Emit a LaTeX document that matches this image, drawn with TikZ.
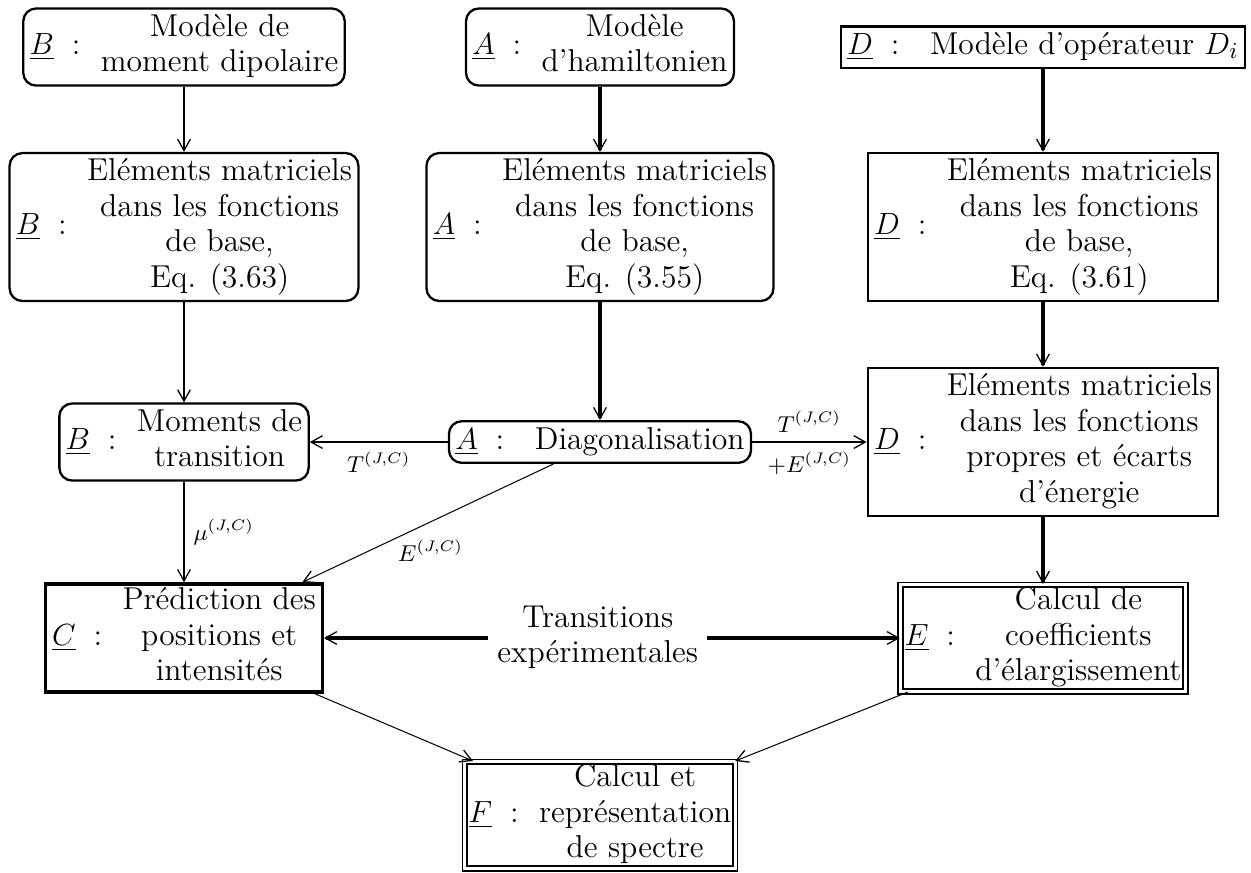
\documentclass[tikz,border=0pt]{standalone}
\usepackage{fontspec}
\usepackage{tikz}
\usetikzlibrary{positioning,arrows.meta}
\tikzstyle{rbox}=[draw, rounded corners=5pt, line width=0.9pt, inner xsep=2.5pt, inner ysep=1.2pt]
\tikzstyle{sbox}=[draw, line width=1pt, inner xsep=2.5pt, inner ysep=1.2pt]
\tikzstyle{dbox}=[draw, double, line width=0.7pt, double distance=1.2pt, inner xsep=1.5pt, inner ysep=0pt]
\tikzstyle{fin}=[line width=0.4pt]
\tikzstyle{moyen}=[line width=0.8pt]
\tikzstyle{epais}=[line width=1.2pt]
\newcommand{\etiq}[1]{$\underline{#1}$\hspace{7pt}:\hspace{8pt}}
\newcommand{\lignes}[1]{\begin{tabular}{@{}c@{}}#1\end{tabular}}
\begin{document}
\begin{tikzpicture}[node distance=2cm,>={Straight Barb[length=4.5pt,width=5pt,line width=0.5pt]},font=\fontsize{12.4}{13.9}\selectfont]
\useasboundingbox (-2.535,0.648) rectangle (14.70,-11.379);
% modeles
\node[rbox] at (0,0) (b1) {\etiq{B}\lignes{Modèle de\\moment dipolaire}};
\node[rbox, right of = b1, node distance = 5.731cm] (a1) {\etiq{A}\lignes{Modèle\\d'hamiltonien}};
\node[sbox, right of = a1, node distance = 6.103cm] (d1) {\etiq{D}\hspace{4pt}\lignes{Modèle d'opérateur $D_i$}};

% elements matriciels
\node[rbox, below of = b1, node distance = 2.48cm] (b2) {\etiq{B}\lignes{Eléments matriciels\\dans les fonctions\\de base,\\Eq. (3.63)}};
\node[rbox, below of = a1, node distance = 2.48cm] (a2) {\etiq{A}\lignes{Eléments matriciels\\dans les fonctions\\de base,\\Eq. (3.55)}};
\node[sbox, below of = d1, node distance = 2.48cm] (d2) {\etiq{D}\lignes{Eléments matriciels\\dans les fonctions\\de base,\\Eq. (3.61)}};
\draw[->,moyen] (b1) -- (b2);
\draw[->,epais] (a1) -- (a2);
\draw[->,epais] (d1) -- (d2);

\node[rbox, below of = b2, node distance = 2.962cm] (b3) {\etiq{B}\lignes{Moments de\\transition}};
\node[rbox, below of = a2, node distance = 2.962cm] (a3) {\etiq{A}\hspace{4pt}\lignes{Diagonalisation}};
\node[sbox, below of = d2, node distance = 2.962cm] (d3) {\etiq{D}\lignes{Eléments matriciels\\dans les fonctions\\propres et écarts\\d'énergie}};
\draw[->,moyen] (b2) -- (b3);
\draw[->,epais] (a2) -- (a3);
\draw[->,epais] (d2) -- (d3);
\draw[->,moyen] (a3) -- node[below] {$\scriptstyle T^{(J,C)}$} (b3);
\draw[->,moyen] (a3) -- node[above] {$\scriptstyle T^{(J,C)}$} node[below] {$\scriptstyle +E^{(J,C)}$} (d3);

% predictions
\node[sbox, line width=1.4pt, inner ysep=0.3pt, below of = b3, node distance = 2.7cm] (c) {\etiq{C}\lignes{Prédiction des\\positions et\\intensités}};
\node[below of = a3, node distance = 2.7cm, xshift=-0.03cm] (trans) {\lignes{Transitions\\expérimentales}};
\node[dbox, below of = d3, node distance = 2.7cm] (e) {\etiq{E}\lignes{Calcul de\\coefficients\\d'élargissement}};
\draw[->,moyen] (b3) -- node[right] {$\scriptstyle \mu^{(J,C)}$} (c);
\draw[->,fin] (a3) -- node[below=3pt, xshift=1pt] {$\scriptstyle E^{(J,C)}$} (c);
\draw[->,epais] (d3) -- (e);
\draw[->,line width=1.4pt] (trans) -- (c);
\draw[->,line width=1.4pt] (trans) -- (e);

\node[dbox, below of = trans, node distance = 2.439cm, xshift=0.03cm] (f) {\etiq{F}\lignes{Calcul et\\représentation\\de spectre}};
\draw[->,fin] (c) -- (f);
\draw[->,fin] (e) -- (f);
\end{tikzpicture}
\end{document}
